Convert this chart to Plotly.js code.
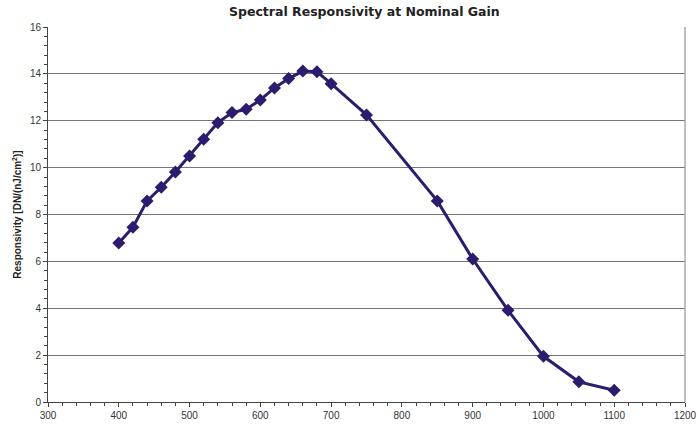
<!DOCTYPE html>
<html><head><meta charset="utf-8">
<script src="https://cdn.plot.ly/plotly-3.0.1.min.js"></script>
<style>html,body{margin:0;padding:0;background:#fff;}#chart{width:698px;height:427px;}</style>
</head><body><div id="chart"></div>
<script>
const wavelength = [400,420,440,460,480,500,520,540,560,580,600,620,640,660,680,700,750,850,900,950,1000,1050,1100];
const responsivity = [6.78,7.46,8.58,9.16,9.81,10.5,11.21,11.92,12.35,12.49,12.89,13.4,13.8,14.12,14.09,13.58,12.25,8.58,6.1,3.91,1.95,0.86,0.5];
const xTicks = [300,400,500,600,700,800,900,1000,1100,1200];
const yTicks = [0,2,4,6,8,10,12,14,16];

const trace = {
  x: wavelength, y: responsivity, type:'scatter', mode:'lines+markers',
  line:{color:'#2d1b6e', width:3},
  marker:{symbol:'diamond', size:10, color:'#2d1b6e'},
  hoverinfo:'skip'
};
const tickFont = {family:'Liberation Sans, Arial, sans-serif', size:10, color:'#333'};
const layout = {
  width:698, height:427,
  margin:{l:48, r:13, t:27, b:25},
  paper_bgcolor:'#fff', plot_bgcolor:'#fff',
  showlegend:false,
  title:{text:'<b>Spectral Responsivity at Nominal Gain</b>', x:0.522, xanchor:'center', y:0.972, yanchor:'middle',
    font:{family:'DejaVu Sans, sans-serif', size:12.5, color:'#222'}},
  xaxis:{range:[300,1200], tickvals:xTicks, ticktext:xTicks.map(String), tickfont:tickFont,
    showgrid:false, zeroline:false, showline:true, linecolor:'#444', linewidth:1,
    ticks:'outside', ticklen:4, tickcolor:'#444',
    minor:{dtick:20, ticks:'outside', ticklen:3, tickcolor:'#444', showgrid:false},
    mirror:false, fixedrange:true},
  yaxis:{range:[0,16], tickvals:yTicks, ticktext:yTicks.map(String), tickfont:tickFont,
    showgrid:true, gridcolor:'#6f767b', gridwidth:1, zeroline:false,
    showline:true, linecolor:'#444', linewidth:1,
    ticks:'outside', ticklen:4, tickcolor:'#444',
    minor:{dtick:0.4, ticks:'outside', ticklen:3, tickcolor:'#444', showgrid:false},
    title:{text:'<b>Responsivity [DN/(nJ/cm<sup>2</sup>)]</b>', standoff:6,
      font:{family:'Liberation Sans, Arial, sans-serif', size:10, color:'#222'}},
    fixedrange:true},
  shapes:[{type:'line', xref:'paper', yref:'paper', x0:1, x1:1, y0:0, y1:1, line:{color:'#9a9fa3', width:1.3}}]
};
Plotly.newPlot('chart',[trace],layout,{displayModeBar:false, staticPlot:true});
</script></body></html>
